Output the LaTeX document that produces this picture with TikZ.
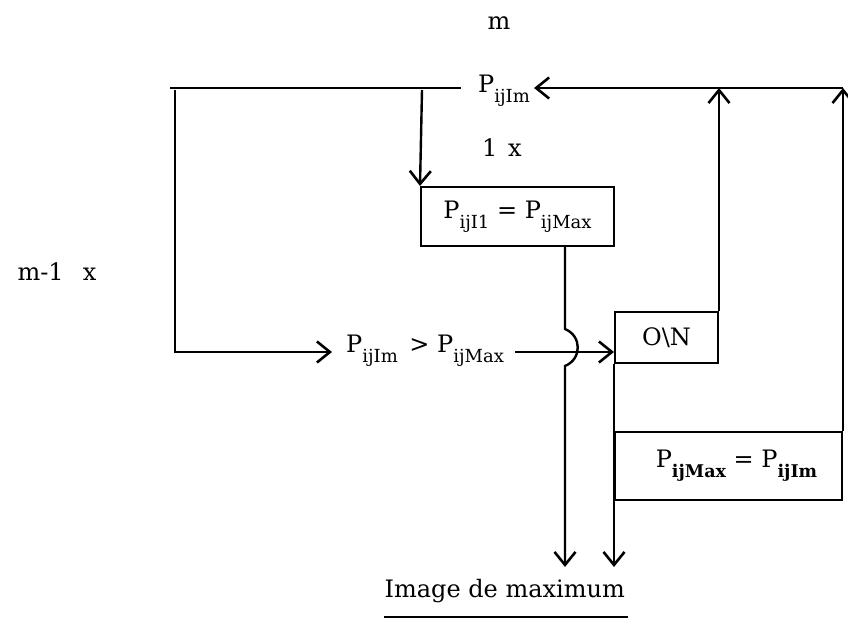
\documentclass[tikz,border=0pt]{standalone}
\usepackage{fontspec}
\setmainfont{DejaVu Serif}
\usetikzlibrary{arrows.meta}
\newcommand\sbx[1]{\raisebox{-0.42em}{\fontsize{18}{18}\selectfont #1}}
\newcommand\sbb[1]{\raisebox{-0.42em}{\fontsize{17.5}{18}\selectfont\bfseries #1}}
\begin{document}
\begin{tikzpicture}[x=1pt,y=-1pt,
  every node/.style={font=\fontsize{24}{28}\selectfont, inner sep=0pt},
  ln/.style={line width=2.4pt},
  arr/.style={ln, -{Straight Barb[length=13pt,width=21pt,line width=2.6pt]}},
  boxn/.style={draw, line width=2pt, rectangle}]
\useasboundingbox (0,0) rectangle (848,627);
% texts
\node (mtop) at (499,23) {m};
\node[anchor=base west] (Pm) at (478,92) {P\sbx{ijIm}};
\node (onex) at (502,148) {1\hspace{0.45em}x};
\node (m1x) at (57,272) {m-1\hspace{0.8em}x};
\node[boxn, minimum width=193pt, minimum height=59pt] (b1) at (517.5,216.5) {P\sbx{ijI1} = P\sbx{ijMax}};
\node[anchor=base west] (cmp) at (346,352) {P\sbx{ijIm}\, > P\sbx{ijMax}};
\node[boxn, minimum width=103pt, minimum height=51pt] (on) at (666.5,337.5) {O\textbackslash N};
\node[boxn, minimum width=227pt, minimum height=68pt] (b2) at (728.5,466) {\hspace*{16pt}P\sbb{ijMax} = P\sbb{ijIm}};
\node[anchor=base east] (img) at (625,597) {Image de maximum};
% coordinates
\coordinate (tl) at (170,88);
\coordinate (tm) at (461,88);
\coordinate (tr) at (843,88);
\coordinate (d1) at (565,567);
\coordinate (lc) at (175,90);
\coordinate (ic) at (422,90);
% connectors
\draw[ln] (tl) -- (tm);
\draw[arr] (tr) -- ([xshift=4pt]Pm.east |- tr);
\draw[arr] (lc) -- (lc |- cmp.base) -- ([xshift=-14pt]cmp.base west);
\draw[arr] (ic) -- (b1.north west);
\draw[arr] (b1.south -| d1) -- (565,329) .. controls (582,336) and (582,359) .. (565,366) -- (d1);
\draw[arr] ([xshift=11pt]cmp.base east) -- (cmp.base -| on.west);
\draw[arr] (on.north east) -- (on.north east |- tr);
\draw[arr] (on.south west) -- (on.south west |- d1);
\draw[arr] (b2.north east) -- (b2.north east |- tr);
\draw[ln] ([yshift=-20pt]img.base west) -- ([yshift=-20pt,xshift=3pt]img.base east);
\end{tikzpicture}
\end{document}
